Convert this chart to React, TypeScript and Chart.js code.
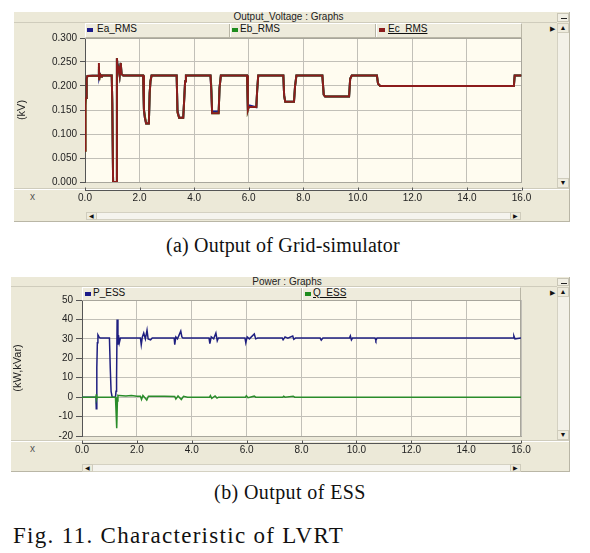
import React, { useEffect, useRef } from "react";
import { Chart, registerables } from "chart.js";

Chart.register(...registerables);

// ---------- Data: Output_Voltage (kV) ----------
const voltageTime = [
  0, 0.02, 0.04, 0.06, 0.09,
  0.5, 0.51, 0.52, 0.55, 0.6, 0.62,
  0.98, 1.0, 1.03, 1.15, 1.17,
  1.2, 1.23, 1.27, 1.31, 1.34, 1.4,
  2.13, 2.16, 2.19, 2.24, 2.34, 2.37, 2.4, 2.44,
  3.36, 3.39, 3.45, 3.6, 3.63, 3.67, 3.7,
  4.6, 4.63, 4.66, 4.9, 4.93, 4.98,
  5.94, 5.97, 6.0, 6.28, 6.31, 6.35,
  7.27, 7.3, 7.34, 7.66, 7.7, 7.75,
  8.7, 8.75, 8.8, 9.68, 9.72, 9.78,
  10.7, 10.74, 10.82,
  15.72, 15.75, 16.0,
];
const eaRms = [
  0.17, 0.17, 0.175, 0.215, 0.221,
  0.222, 0.235, 0.218, 0.225, 0.22, 0.222,
  0.222, 0.165, 0.0, 0.0, 0.258,
  0.232, 0.238, 0.222, 0.248, 0.225, 0.222,
  0.222, 0.152, 0.135, 0.122, 0.122, 0.185, 0.21, 0.222,
  0.222, 0.15, 0.134, 0.134, 0.165, 0.21, 0.222,
  0.222, 0.19, 0.147, 0.147, 0.195, 0.222,
  0.222, 0.15, 0.16, 0.156, 0.19, 0.222,
  0.222, 0.18, 0.167, 0.167, 0.2, 0.222,
  0.222, 0.182, 0.178, 0.178, 0.215, 0.222,
  0.222, 0.205, 0.2,
  0.2, 0.222, 0.222,
];
const ebRms = [
  0.065, 0.16, 0.175, 0.215, 0.221,
  0.222, 0.24, 0.212, 0.225, 0.22, 0.222,
  0.222, 0.165, 0.0, 0.0, 0.258,
  0.232, 0.236, 0.222, 0.248, 0.225, 0.222,
  0.222, 0.15, 0.14, 0.122, 0.122, 0.185, 0.21, 0.222,
  0.222, 0.145, 0.134, 0.134, 0.165, 0.21, 0.222,
  0.222, 0.2, 0.143, 0.143, 0.195, 0.222,
  0.222, 0.15, 0.156, 0.156, 0.19, 0.222,
  0.222, 0.18, 0.167, 0.167, 0.2, 0.222,
  0.222, 0.182, 0.178, 0.178, 0.215, 0.222,
  0.222, 0.205, 0.2,
  0.2, 0.222, 0.222,
];
const ecRms = [
  0.065, 0.17, 0.175, 0.215, 0.221,
  0.222, 0.248, 0.212, 0.225, 0.22, 0.222,
  0.222, 0.165, 0.0, 0.0, 0.258,
  0.232, 0.236, 0.222, 0.248, 0.225, 0.222,
  0.222, 0.15, 0.135, 0.122, 0.122, 0.185, 0.21, 0.222,
  0.222, 0.145, 0.134, 0.134, 0.165, 0.21, 0.222,
  0.222, 0.19, 0.143, 0.143, 0.195, 0.222,
  0.222, 0.15, 0.156, 0.156, 0.19, 0.222,
  0.222, 0.18, 0.167, 0.167, 0.2, 0.222,
  0.222, 0.182, 0.178, 0.178, 0.215, 0.222,
  0.222, 0.205, 0.2,
  0.2, 0.222, 0.222,
];
const voltageYTicks = [0, 0.05, 0.1, 0.15, 0.2, 0.25, 0.3];

// ---------- Data: Power (kW, kVar) ----------
const pTime = [
  0, 0.51, 0.52, 0.54, 0.56, 0.58, 0.62, 0.66,
  1.0, 1.03, 1.06, 1.1,
  1.22, 1.24, 1.26, 1.28, 1.31, 1.33, 1.36, 1.4,
  2.13, 2.16, 2.2, 2.25, 2.31, 2.37, 2.41, 2.5, 2.56,
  3.36, 3.38, 3.42, 3.48, 3.6, 3.64, 3.68,
  4.63, 4.66, 4.71, 4.8, 4.88, 4.93, 4.97,
  5.94, 5.97, 6.02, 6.1, 6.28, 6.33, 6.4,
  7.3, 7.33, 7.4, 7.5, 7.68, 7.72, 7.78,
  8.68, 8.72, 8.78,
  9.75, 9.78, 9.82, 9.86,
  10.68, 10.71, 10.75,
  15.72, 15.74, 15.78, 16.0,
];
const pEss = [
  0, 0, -6, 15, 28, 32, 31, 30.4,
  30.4, 15, 3, 0,
  0, 3, 10, 40, 27, 32, 28, 30.4,
  30.4, 27, 31, 33, 30, 34.5, 30, 29.5, 30.4,
  30.4, 27, 31, 30, 34, 31, 30.4,
  30.4, 27.5, 31, 30, 33, 29, 30.4,
  30.4, 28, 31, 30, 32.5, 30, 30.4,
  30.4, 29.5, 31, 30.4, 31.5, 29.8, 30.4,
  30.4, 29.3, 30.4,
  30.4, 31.5, 29.5, 30.4,
  30.4, 29.2, 30.4,
  30.4, 31.5, 30, 30.4,
];
const qTime = [
  0, 0.51, 0.52, 0.53, 0.55,
  1.22, 1.24, 1.26, 1.27, 1.29, 1.31, 1.35,
  1.6, 1.8, 2.0, 2.13,
  2.17, 2.22, 2.3, 2.36, 2.42, 2.55,
  3.0, 3.38, 3.42, 3.5, 3.62, 3.7, 3.85,
  4.65, 4.68, 4.73, 4.85, 4.92, 4.98,
  5.96, 5.99, 6.05, 6.28, 6.33,
  7.32, 7.35, 7.4, 7.7, 7.75,
  16.0,
];
const qEss = [
  0, 0, 1.5, -1, 0,
  0, -7, 0, -16, -2, 1, 0.8,
  0.6, 0.8, 0.5, 0.5,
  -1.2, 0.8, -0.5, -1.5, 0.5, 0.5,
  0.4, 0.3, -1, 0.6, -1.2, 0.4, 0,
  0, 0.8, -0.6, 0.6, -0.5, 0,
  0, 0.7, -0.3, 0.5, 0,
  0, 0.5, 0, 0.5, 0,
  0,
];
const powerYTicks = [-20, -10, 0, 10, 20, 30, 40, 50];

const timeTicks = [0, 2, 4, 6, 8, 10, 12, 14, 16];

// ---------- styles ----------
const PANEL_BG = "#ECE9D8";
const PLOT_BG = "#FFFCF0";
const GRID = "#C2C0B8";
const SANS = "'Liberation Sans', Arial, sans-serif";
const SERIF = "'Liberation Serif', 'Times New Roman', serif";

const zip = (xs: number[], ys: number[]) => xs.map((x, i) => ({ x, y: ys[i] }));

type ChartSpec = {
  left: number;
  top: number;
  width: number;
  height: number;
  padTop: number;
  padRight: number;
  yAxisW: number;
  xAxisH: number;
  axisGap: number;
  xPad: number;
  yMin: number;
  yMax: number;
  yTicks: number[];
  yDigits: number;
  yTickLen: number;
  yTitle: string;
  datasets: any[];
};

function PlotCanvas({ spec }: { spec: ChartSpec }) {
  const ref = useRef<HTMLCanvasElement | null>(null);
  useEffect(() => {
    if (!ref.current) return;
    const framePlugin = {
      id: "pscadFrame",
      beforeDraw(chart: any) {
        const { ctx, chartArea: a } = chart;
        ctx.save();
        ctx.fillStyle = PLOT_BG;
        ctx.fillRect(a.left, a.top, a.right - a.left, a.bottom - a.top);
        ctx.restore();
      },
      beforeDatasetsDraw(chart: any) {
        const { ctx, chartArea: a } = chart;
        ctx.save();
        ctx.strokeStyle = "#A8A69C";
        ctx.lineWidth = 1;
        ctx.beginPath();
        ctx.moveTo(a.left, Math.round(a.top) + 0.5);
        ctx.lineTo(a.right, Math.round(a.top) + 0.5);
        ctx.moveTo(Math.round(a.right) - 0.5, a.top);
        ctx.lineTo(Math.round(a.right) - 0.5, a.bottom);
        ctx.stroke();
        ctx.restore();
      },
      afterDraw(chart: any) {
        const { ctx, chartArea: a } = chart;
        const xs = chart.scales.x;
        const y = Math.round(a.bottom + spec.axisGap) + 0.5;
        ctx.save();
        ctx.strokeStyle = "#555";
        ctx.lineWidth = 1;
        ctx.beginPath();
        ctx.moveTo(xs.getPixelForValue(timeTicks[0]), y);
        ctx.lineTo(xs.getPixelForValue(timeTicks[timeTicks.length - 1]), y);
        xs.ticks.forEach((t: any) => {
          const px = Math.round(xs.getPixelForValue(t.value)) + 0.5;
          ctx.moveTo(px, y);
          ctx.lineTo(px, y - 3);
        });
        ctx.stroke();
        ctx.restore();
      },
    };
    const chart = new Chart(ref.current, {
      type: "line",
      data: { datasets: spec.datasets },
      options: {
        responsive: false,
        animation: false,
        events: [],
        layout: { padding: { left: 0, top: spec.padTop, right: spec.padRight, bottom: 0 } },
        plugins: { legend: { display: false }, tooltip: { enabled: false } },
        elements: { point: { radius: 0 }, line: { tension: 0 } },
        scales: {
          x: {
            type: "linear",
            min: 0,
            max: 16,
            afterBuildTicks: (s: any) => {
              s.ticks = timeTicks.map((value) => ({ value }));
            },
            afterFit: (s: any) => {
              s.height = spec.xAxisH;
            },
            grid: { color: GRID, drawTicks: false },
            border: { color: "#A8A69C" },
            ticks: {
              padding: spec.xPad,
              color: "#222",
              font: { family: SANS, size: 10 },
              maxRotation: 0,
              autoSkip: false,
              callback: (v: any) => Number(v).toFixed(1),
            },
          },
          y: {
            type: "linear",
            min: spec.yMin,
            max: spec.yMax,
            afterBuildTicks: (s: any) => {
              s.ticks = spec.yTicks.map((value) => ({ value }));
            },
            afterFit: (s: any) => {
              s.width = spec.yAxisW;
            },
            grid: { color: GRID, tickLength: spec.yTickLen, tickColor: "#555" },
            border: { color: "#555" },
            ticks: {
              padding: 3,
              color: "#222",
              font: { family: SANS, size: 10 },
              autoSkip: false,
              callback: (v: any) => Number(v).toFixed(spec.yDigits),
            },
            title: {
              display: true,
              text: spec.yTitle,
              color: "#222",
              font: { family: SANS, size: 11 },
              padding: 0,
            },
          },
        },
      },
      plugins: [framePlugin],
    } as any);
    return () => chart.destroy();
  }, [spec]);
  return (
    <canvas
      ref={ref}
      width={spec.width}
      height={spec.height}
      style={{
        position: "absolute",
        left: spec.left,
        top: spec.top,
        width: spec.width,
        height: spec.height,
        display: "block",
      }}
    />
  );
}

type LegendItem = { label: string; color: string; sq: number; text: number; underline?: boolean };
type PanelSpec = {
  left: number;
  top: number;
  right: number;
  bottom: number;
  titleBottom: number;
  legendBottom: number;
  plotLeft: number;
  plotRight: number;
  sepY: number;
  hsTop: number;
  hsBottom: number;
  hsLeft: number;
  hsRight: number;
  xLabelY: number;
  title: string;
  legend: LegendItem[];
  dividers: number[];
};

const abs = (s: any) => ({ position: "absolute" as const, ...s });

function Chrome({ p }: { p: PanelSpec }) {
  const vsLeft = 557;
  const vsRight = 569;
  const legendMid = (p.titleBottom + p.legendBottom) / 2;
  return (
    <>
      {/* panel body */}
      <div
        style={abs({
          left: p.left,
          top: p.top,
          width: p.right - p.left,
          height: p.bottom - p.top,
          background: PANEL_BG,
          borderRight: "1px solid #B9B6A6",
          borderBottom: "1px solid #B9B6A6",
          boxSizing: "border-box",
        })}
      />
      {/* title bar */}
      <div
        style={abs({
          left: p.left,
          top: p.top,
          width: vsLeft - p.left,
          height: p.titleBottom - p.top,
          borderBottom: "1px solid #CFCCBC",
          boxSizing: "border-box",
        })}
      />
      <div
        style={abs({
          left: p.left,
          width: vsLeft - p.left + 6,
          top: p.top - 1,
          height: p.titleBottom - p.top,
          lineHeight: `${p.titleBottom - p.top}px`,
          textAlign: "center",
          font: `10px ${SANS}`,
          color: "#222",
          whiteSpace: "nowrap",
        })}
      >
        {p.title}
      </div>
      {/* minimize button */}
      <div
        style={abs({
          left: vsLeft,
          top: p.top + 1,
          width: vsRight - vsLeft,
          height: p.titleBottom - p.top - 2,
          border: "1px solid #C9C6B6",
          boxSizing: "border-box",
          background: "#F1EFE4",
        })}
      >
        <div style={abs({ left: 3, top: 4, width: 6, height: 1, background: "#222" })} />
      </div>
      {/* legend bar */}
      <div
        style={abs({
          left: p.plotLeft,
          top: p.titleBottom,
          width: p.plotRight - p.plotLeft,
          height: p.legendBottom - p.titleBottom + 1,
          borderTop: "1px solid #FFFFFF",
          borderLeft: "1px solid #FFFFFF",
          borderRight: "1px solid #B9B6A6",
          borderBottom: "1px solid #B9B6A6",
          boxSizing: "border-box",
          background: "#EEEBDC",
        })}
      />
      {p.dividers.map((d, i) => (
        <div
          key={"d" + i}
          style={abs({
            left: d,
            top: p.titleBottom + 1,
            width: 1,
            height: p.legendBottom - p.titleBottom - 1,
            background: "#B9B6A6",
            boxShadow: "1px 0 0 #FFFFFF",
          })}
        />
      ))}
      {p.legend.map((it, i) => (
        <React.Fragment key={"l" + i}>
          <div
            style={abs({
              left: it.sq,
              top: Math.round(legendMid) - 2,
              width: 6,
              height: 4,
              background: it.color,
            })}
          />
          <div
            style={abs({
              left: it.text,
              top: p.titleBottom,
              height: p.legendBottom - p.titleBottom,
              lineHeight: `${p.legendBottom - p.titleBottom}px`,
              font: `10px ${SANS}`,
              color: "#111",
              whiteSpace: "nowrap",
              textDecoration: it.underline ? "underline" : "none",
            })}
          >
            {it.label}
          </div>
        </React.Fragment>
      ))}
      {/* small arrow */}
      <div
        style={abs({
          left: 550,
          top: p.titleBottom + 1,
          font: `7px ${SANS}`,
          lineHeight: "10px",
          color: "#111",
        })}
      >
        ▶
      </div>
      {/* vertical scrollbar */}
      <div
        style={abs({
          left: vsLeft,
          top: p.titleBottom,
          width: vsRight - vsLeft,
          height: p.sepY - p.titleBottom,
          background: "#F3F1E8",
          borderLeft: "1px solid #D4D1C2",
          boxSizing: "border-box",
        })}
      />
      <div
        style={abs({
          left: vsLeft,
          top: p.titleBottom,
          width: vsRight - vsLeft,
          height: 10,
          background: "#EEEBDD",
          border: "1px solid #CFCCBC",
          boxSizing: "border-box",
          font: `7px ${SANS}`,
          lineHeight: "8px",
          textAlign: "center",
          color: "#111",
        })}
      >
        ▲
      </div>
      <div
        style={abs({
          left: vsLeft,
          top: p.sepY - 10,
          width: vsRight - vsLeft,
          height: 10,
          background: "#EEEBDD",
          border: "1px solid #CFCCBC",
          boxSizing: "border-box",
          font: `7px ${SANS}`,
          lineHeight: "8px",
          textAlign: "center",
          color: "#111",
        })}
      >
        ▼
      </div>
      {/* separator */}
      <div
        style={abs({
          left: p.left,
          top: p.sepY,
          width: vsRight - p.left,
          height: 1,
          background: "#CFCCBC",
          boxShadow: "0 1px 0 #FFFFFF",
        })}
      />
      {/* x label */}
      <div
        style={abs({
          left: 30,
          top: p.xLabelY - 6,
          font: `10px ${SANS}`,
          lineHeight: "12px",
          color: "#555",
        })}
      >
        x
      </div>
      {/* horizontal scrollbar */}
      <div
        style={abs({
          left: p.hsLeft,
          top: p.hsTop,
          width: p.hsRight - p.hsLeft,
          height: p.hsBottom - p.hsTop,
          background: "#F5F4EE",
          border: "1px solid #D4D1C2",
          boxSizing: "border-box",
        })}
      />
      <div
        style={abs({
          left: p.hsLeft,
          top: p.hsTop,
          width: 11,
          height: p.hsBottom - p.hsTop,
          background: "#EEEBDD",
          border: "1px solid #CFCCBC",
          boxSizing: "border-box",
          font: `6px ${SANS}`,
          lineHeight: `${p.hsBottom - p.hsTop - 2}px`,
          textAlign: "center",
          color: "#111",
        })}
      >
        ◀
      </div>
      <div
        style={abs({
          left: p.hsRight - 11,
          top: p.hsTop,
          width: 11,
          height: p.hsBottom - p.hsTop,
          background: "#EEEBDD",
          border: "1px solid #CFCCBC",
          boxSizing: "border-box",
          font: `6px ${SANS}`,
          lineHeight: `${p.hsBottom - p.hsTop - 2}px`,
          textAlign: "center",
          color: "#111",
        })}
      >
        ▶
      </div>
    </>
  );
}

const panelA: PanelSpec = {
  left: 14,
  top: 12,
  right: 570,
  bottom: 222,
  titleBottom: 23,
  legendBottom: 37,
  plotLeft: 85,
  plotRight: 522,
  sepY: 188,
  hsTop: 212,
  hsBottom: 220,
  hsLeft: 86,
  hsRight: 521,
  xLabelY: 197,
  title: "Output_Voltage : Graphs",
  legend: [
    { label: "Ea_RMS", color: "#1C1C8A", sq: 87, text: 97 },
    { label: "Eb_RMS", color: "#1E8C1E", sq: 232, text: 240 },
    { label: "Ec_RMS", color: "#8C1C1C", sq: 379, text: 388, underline: true },
  ],
  dividers: [229, 375],
};

const panelB: PanelSpec = {
  left: 11,
  top: 277,
  right: 570,
  bottom: 472,
  titleBottom: 287,
  legendBottom: 300,
  plotLeft: 82,
  plotRight: 521,
  sepY: 440,
  hsTop: 464,
  hsBottom: 472,
  hsLeft: 82,
  hsRight: 521,
  xLabelY: 449,
  title: "Power : Graphs",
  legend: [
    { label: "P_ESS", color: "#1C1C8A", sq: 85, text: 93 },
    { label: "Q_ESS", color: "#1E8C1E", sq: 305, text: 313, underline: true },
  ],
  dividers: [301],
};

const voltageSpec: ChartSpec = {
  left: 15,
  top: 28,
  width: 540,
  height: 178,
  padTop: 10,
  padRight: 540 - (521.5 - 15),
  yAxisW: 70,
  xAxisH: 24,
  axisGap: 8,
  xPad: 10,
  yMin: 0,
  yMax: 0.3,
  yTicks: voltageYTicks,
  yDigits: 3,
  yTickLen: 5,
  yTitle: "(kV)",
  datasets: [
    { label: "Ec_RMS", data: zip(voltageTime, ecRms), borderColor: "#8C1C1C", borderWidth: 2, order: 0 },
    { label: "Eb_RMS", data: zip(voltageTime, ebRms), borderColor: "#1E8C1E", borderWidth: 2, order: 1 },
    { label: "Ea_RMS", data: zip(voltageTime, eaRms), borderColor: "#1C1C8A", borderWidth: 2, order: 2 },
  ],
};

const powerSpec: ChartSpec = {
  left: 11,
  top: 290,
  width: 544,
  height: 170,
  padTop: 10,
  padRight: 544 - (521 - 11),
  yAxisW: 71,
  xAxisH: 24,
  axisGap: 7,
  xPad: 8,
  yMin: -20,
  yMax: 50,
  yTicks: powerYTicks,
  yDigits: 0,
  yTickLen: 6,
  yTitle: "(kW,kVar)",
  datasets: [
    { label: "Q_ESS", data: zip(qTime, qEss), borderColor: "#2A8C2A", borderWidth: 1.5, order: 0 },
    { label: "P_ESS", data: zip(pTime, pEss), borderColor: "#1F1F80", borderWidth: 1.5, order: 1 },
  ],
};

export default function App() {
  return (
    <div
      style={{
        position: "absolute",
        left: 0,
        top: 0,
        width: 590,
        height: 553,
        background: "#FFFFFF",
        overflow: "hidden",
      }}
    >
      <Chrome p={panelA} />
      <PlotCanvas spec={voltageSpec} />
      <div
        style={abs({
          left: 0,
          width: 566,
          top: 233,
          textAlign: "center",
          font: `20px ${SERIF}`,
          letterSpacing: "0.2px",
          lineHeight: "24px",
          color: "#111",
          whiteSpace: "nowrap",
        })}
      >
        (a) Output of Grid-simulator
      </div>
      <Chrome p={panelB} />
      <PlotCanvas spec={powerSpec} />
      <div
        style={abs({
          left: 0,
          width: 580,
          top: 480,
          textAlign: "center",
          font: `20px ${SERIF}`,
          letterSpacing: "0.4px",
          lineHeight: "24px",
          color: "#111",
          whiteSpace: "nowrap",
        })}
      >
        (b) Output of ESS
      </div>
      <div
        style={abs({
          left: 13,
          top: 522,
          font: `23px ${SERIF}`,
          letterSpacing: "1.3px",
          lineHeight: "28px",
          color: "#111",
          whiteSpace: "nowrap",
        })}
      >
        Fig. 11. Characteristic of LVRT
      </div>
    </div>
  );
}
